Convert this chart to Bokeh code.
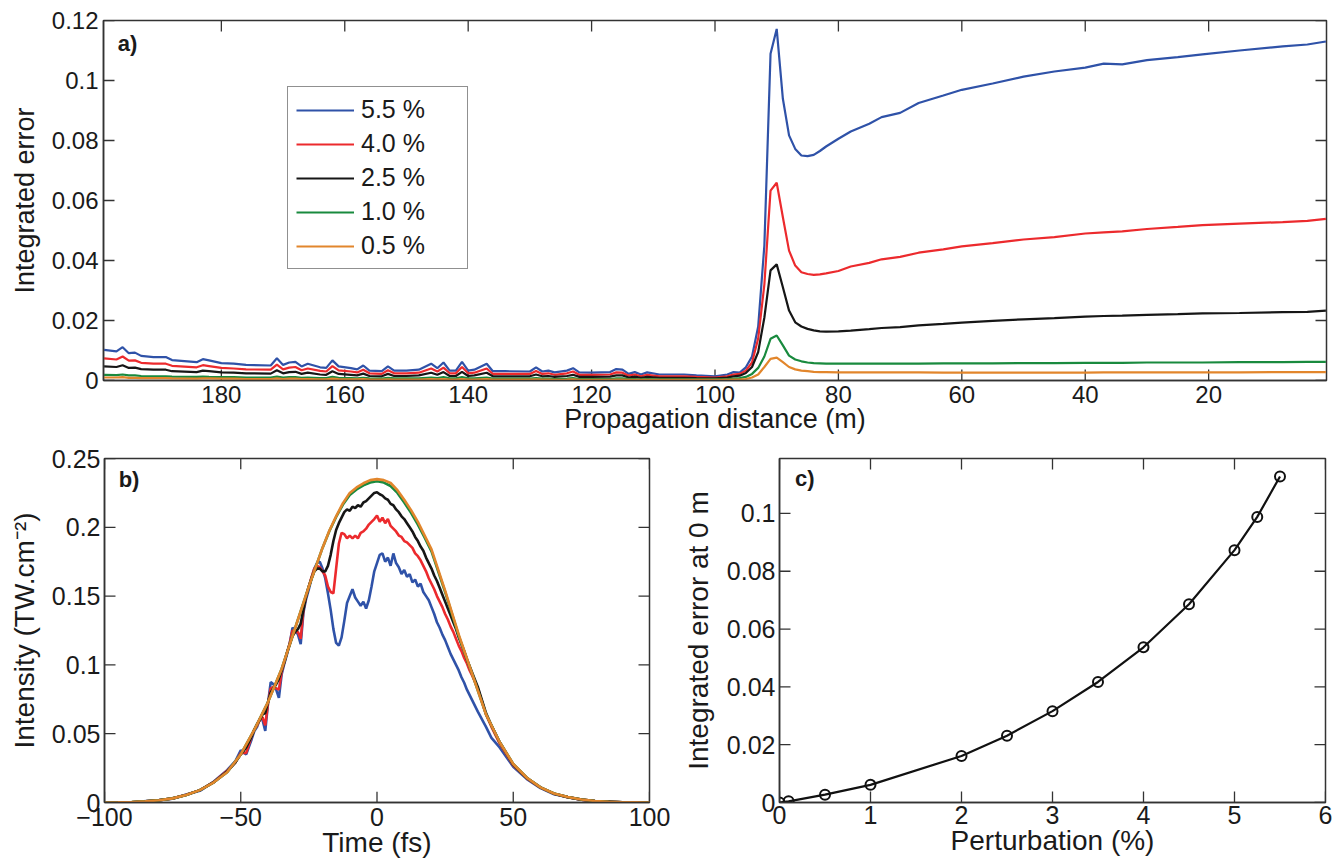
from bokeh.plotting import figure
from bokeh.models import (Range1d, FixedTicker, CustomJSTickFormatter,
                          Legend, LegendItem, Label)
from bokeh.layouts import column, row
from bokeh.embed import file_html
from bokeh.resources import INLINE

# ---------------- Panel a data: integrated error vs propagation distance ----------------
distance = [
    199, 197, 196, 195, 194, 193, 191, 189, 188, 184,
    183, 182, 180, 178, 176, 172, 171, 170, 169, 168,
    167, 166, 164, 163, 162, 161, 159, 158, 157, 156,
    154, 153, 152, 150, 148, 146, 145, 144, 143, 142,
    141, 140, 139, 137, 136, 134, 130, 129, 128, 127,
    126, 124, 123, 122, 120, 117, 116, 115, 114, 113,
    112, 111, 109, 105, 103, 100, 98, 97, 96, 95,
    94, 93, 92, 91, 90, 89, 88, 87, 86, 85,
    84, 83, 82, 80, 78, 75, 73, 70, 67, 63,
    60, 55, 50, 45, 40, 37, 34, 30, 25, 21,
    15, 8, 4, 1]

err_55 = [
    .0102, .0097, .0111, .0091, .0093, .0082, .0078, .0078, .0068, .0061,
    .0071, .0067, .0058, .0056, .0052, .0050, .0074, .0052, .0060, .0062,
    .0047, .0056, .0044, .0042, .0067, .0047, .0041, .0037, .0050, .0033,
    .0031, .0047, .0033, .0033, .0036, .0056, .0041, .0060, .0033, .0033,
    .0062, .0033, .0036, .0056, .0031, .0031, .0030, .0044, .0030, .0033,
    .0027, .0033, .0041, .0027, .0026, .0028, .0038, .0036, .0022, .0028,
    .0020, .0027, .0020, .0020, .0017, .0014, .0020, .0028, .0026, .0044,
    .0080, .0180, .0450, .1089, .1172, .0939, .0817, .0772, .0750, .0748,
    .0752, .0765, .0780, .0806, .0830, .0856, .0878, .0892, .0925, .0950,
    .0969, .0990, .1013, .1030, .1043, .1056, .1054, .1068, .1078, .1087,
    .1100, .1114, .1120, .1130]

err_40 = [
    .0074, .0070, .0080, .0066, .0067, .0059, .0056, .0056, .0049, .0044,
    .0051, .0048, .0042, .0040, .0037, .0036, .0053, .0037, .0043, .0045,
    .0034, .0040, .0032, .0030, .0048, .0034, .0030, .0027, .0036, .0024,
    .0022, .0034, .0024, .0024, .0026, .0040, .0030, .0043, .0024, .0024,
    .0045, .0024, .0026, .0040, .0022, .0022, .0022, .0032, .0022, .0024,
    .0019, .0024, .0030, .0019, .0019, .0020, .0027, .0026, .0016, .0020,
    .0014, .0019, .0014, .0014, .0012, .0010, .0014, .0020, .0022, .0033,
    .0060, .0140, .0320, .0633, .0659, .0544, .0433, .0383, .0361, .0355,
    .0352, .0354, .0357, .0365, .0380, .0392, .0404, .0412, .0426, .0437,
    .0447, .0458, .0470, .0478, .0490, .0494, .0497, .0505, .0512, .0518,
    .0523, .0528, .0532, .0539]

err_25 = [
    .0047, .0045, .0051, .0042, .0043, .0038, .0036, .0036, .0031, .0028,
    .0033, .0031, .0027, .0026, .0024, .0023, .0034, .0024, .0028, .0029,
    .0022, .0026, .0020, .0019, .0031, .0022, .0019, .0017, .0023, .0015,
    .0014, .0022, .0015, .0015, .0017, .0026, .0019, .0028, .0015, .0015,
    .0029, .0015, .0017, .0026, .0014, .0014, .0014, .0020, .0014, .0015,
    .0012, .0015, .0019, .0012, .0012, .0013, .0017, .0017, .0010, .0013,
    .0009, .0012, .0009, .0009, .0008, .0007, .0010, .0014, .0016, .0025,
    .0045, .0095, .0210, .0367, .0387, .0311, .0233, .0194, .0180, .0172,
    .0167, .0164, .0163, .0164, .0166, .0171, .0175, .0178, .0184, .0189,
    .0193, .0199, .0204, .0208, .0213, .0215, .0216, .0219, .0221, .0224,
    .0225, .0228, .0229, .0233]

err_10 = [
    .0019, .0018, .0020, .0017, .0017, .0015, .0014, .0014, .0013, .0012,
    .0013, .0012, .0011, .0011, .0010, .0010, .0013, .0010, .0011, .0011,
    .0009, .0010, .0008, .0008, .0012, .0009, .0008, .0007, .0009, .0007,
    .0006, .0009, .0007, .0007, .0007, .0010, .0008, .0011, .0007, .0007,
    .0011, .0007, .0007, .0010, .0006, .0006, .0006, .0008, .0006, .0006,
    .0005, .0006, .0008, .0005, .0005, .0005, .0007, .0007, .0005, .0005,
    .0004, .0005, .0004, .0004, .0004, .0004, .0005, .0006, .0008, .0012,
    .0022, .0042, .0080, .0139, .0150, .0117, .0083, .0070, .0064, .0060,
    .0058, .0057, .0056, .0056, .0056, .0056, .0056, .0056, .0056, .0057,
    .0057, .0057, .0058, .0058, .0059, .0059, .0059, .0060, .0060, .0060,
    .0061, .0061, .0062, .0062]

err_05 = [
    .0010, .0010, .0011, .0009, .0009, .0008, .0008, .0008, .0007, .0006,
    .0007, .0007, .0006, .0006, .0005, .0005, .0007, .0005, .0006, .0006,
    .0005, .0005, .0004, .0004, .0006, .0005, .0004, .0004, .0005, .0003,
    .0003, .0004, .0003, .0003, .0003, .0005, .0004, .0005, .0003, .0003,
    .0005, .0003, .0003, .0005, .0003, .0003, .0003, .0004, .0003, .0003,
    .0002, .0003, .0004, .0002, .0002, .0002, .0003, .0003, .0002, .0002,
    .0002, .0002, .0002, .0002, .0002, .0002, .0002, .0003, .0003, .0005,
    .0010, .0020, .0045, .0072, .0076, .0061, .0045, .0037, .0033, .0031,
    .0029, .0028, .0028, .0027, .0027, .0027, .0027, .0027, .0027, .0026,
    .0026, .0026, .0026, .0026, .0026, .0027, .0027, .0027, .0027, .0027,
    .0027, .0028, .0028, .0028]

legend_labels = ["5.5 %", "4.0 %", "2.5 %", "1.0 %", "0.5 %"]
colors = ["#2F52A8", "#EC2A2D", "#161616", "#198A3E", "#E2862C"]

dist_ticks = [20, 40, 60, 80, 100, 120, 140, 160, 180]
err_ticks = [0, 0.02, 0.04, 0.06, 0.08, 0.1, 0.12]

# ---------------- Panel b data: intensity vs time ----------------
time_smooth = [-100, -95, -90, -85, -80, -75, -70, -65, -60, -55,
               -50, -45, -40, -35, -30, -25, -20, -17.5, -15, -12.5,
               -10, -7.5, -5, -2.5, 0, 2.5, 5, 7.5, 10, 12.5,
               15, 17.5, 20, 25, 30, 35, 40, 45, 50, 55,
               60, 65, 70, 75, 80, 85, 90, 95, 100]

int_05 = [0, 0.0001, 0.0003, 0.0008, 0.0016, 0.003, 0.0055, 0.009, 0.0145, 0.022,
          0.035, 0.053, 0.073, 0.097, 0.127, 0.157, 0.185, 0.1975, 0.208, 0.2175,
          0.225, 0.229, 0.232, 0.2343, 0.235, 0.2343, 0.2322, 0.227, 0.220, 0.2125,
          0.204, 0.194, 0.184, 0.154, 0.122, 0.093, 0.064, 0.044, 0.028, 0.018,
          0.011, 0.0065, 0.004, 0.0022, 0.0011, 0.0005, 0.0002, 0.0001, 0]

int_10 = [0, 0.0001, 0.0003, 0.0008, 0.0016, 0.003, 0.0055, 0.009, 0.0145, 0.022,
          0.035, 0.053, 0.073, 0.097, 0.127, 0.157, 0.185, 0.1972, 0.2075, 0.2165,
          0.2235, 0.2275, 0.2305, 0.2325, 0.2335, 0.2325, 0.2300, 0.2250, 0.2180, 0.2105,
          0.2020, 0.1925, 0.1825, 0.153, 0.121, 0.093, 0.064, 0.044, 0.028, 0.018,
          0.011, 0.0065, 0.004, 0.0022, 0.0011, 0.0005, 0.0002, 0.0001, 0]

time_noisy = ([-100, -90, -80, -75, -70, -65, -60, -55, -52, -50, -48, -46]
              + list(range(-45, 36))
              + [37, 40, 42, 45, 50, 55, 60, 65, 70, 75, 80, 90, 100])

int_55 = ([0, 0.0002, 0.0017, 0.0028, 0.0058, 0.0085, 0.015, 0.0235, 0.030, 0.038, 0.035, 0.046]
          + [0.052, 0.055, 0.061, 0.060, 0.052, 0.072, 0.0875, 0.086, 0.082, 0.076,
             0.093, 0.101, 0.108, 0.116, 0.127, 0.125, 0.122, 0.115, 0.138, 0.148,
             0.155, 0.163, 0.170, 0.174, 0.175, 0.170, 0.163, 0.152, 0.140, 0.126,
             0.116, 0.114, 0.120, 0.132, 0.145, 0.150, 0.155, 0.149, 0.146, 0.143,
             0.146, 0.141, 0.147, 0.157, 0.168, 0.174, 0.180, 0.181, 0.175, 0.178,
             0.172, 0.181, 0.174, 0.171, 0.166, 0.169, 0.164, 0.166, 0.160, 0.162,
             0.157, 0.159, 0.153, 0.150, 0.147, 0.142, 0.137, 0.131, 0.127, 0.122,
             0.118, 0.113, 0.108, 0.104, 0.100, 0.096, 0.091, 0.087, 0.082, 0.078,
             0.074]
          + [0.066, 0.055, 0.047, 0.040, 0.026, 0.017, 0.0105, 0.006, 0.0038, 0.002, 0.001, 0.0002, 0])

int_40 = ([0, 0.0002, 0.0016, 0.003, 0.0056, 0.009, 0.0148, 0.023, 0.029, 0.036, 0.036, 0.048]
          + [0.053, 0.056, 0.060, 0.062, 0.056, 0.072, 0.083, 0.084, 0.083, 0.082,
             0.095, 0.102, 0.109, 0.116, 0.125, 0.124, 0.124, 0.119, 0.140, 0.150,
             0.157, 0.164, 0.170, 0.172, 0.171, 0.168, 0.165, 0.157, 0.153, 0.152,
             0.170, 0.188, 0.196, 0.195, 0.192, 0.194, 0.192, 0.194, 0.192, 0.196,
             0.197, 0.199, 0.202, 0.204, 0.206, 0.2085, 0.204, 0.207, 0.203, 0.206,
             0.201, 0.199, 0.197, 0.194, 0.193, 0.190, 0.189, 0.187, 0.185, 0.181,
             0.179, 0.176, 0.172, 0.168, 0.163, 0.159, 0.155, 0.150, 0.146, 0.142,
             0.137, 0.133, 0.128, 0.124, 0.119, 0.114, 0.110, 0.105, 0.101, 0.096,
             0.092]
          + [0.083, 0.064, 0.055, 0.043, 0.027, 0.0175, 0.0108, 0.0063, 0.0039, 0.0021, 0.001, 0.0002, 0])

int_25 = ([0, 0.0002, 0.0016, 0.003, 0.0055, 0.009, 0.0146, 0.0225, 0.029, 0.035, 0.040, 0.048]
          + [0.053, 0.057, 0.060, 0.064, 0.065, 0.073, 0.080, 0.083, 0.086, 0.090,
             0.096, 0.102, 0.109, 0.115, 0.121, 0.124, 0.126, 0.130, 0.140, 0.150,
             0.157, 0.163, 0.168, 0.170, 0.170, 0.168, 0.168, 0.172, 0.180, 0.190,
             0.198, 0.203, 0.207, 0.211, 0.213, 0.212, 0.215, 0.214, 0.216, 0.215,
             0.218, 0.219, 0.221, 0.223, 0.225, 0.2255, 0.224, 0.223, 0.221, 0.220,
             0.217, 0.216, 0.213, 0.211, 0.208, 0.206, 0.203, 0.200, 0.197, 0.193,
             0.190, 0.186, 0.183, 0.178, 0.174, 0.170, 0.165, 0.161, 0.156, 0.151,
             0.146, 0.141, 0.136, 0.131, 0.126, 0.120, 0.115, 0.110, 0.104, 0.099,
             0.094]
          + [0.084, 0.065, 0.056, 0.044, 0.0275, 0.0178, 0.011, 0.0064, 0.0039, 0.0021, 0.0011, 0.0002, 0])

time_ticks = [-100, -50, 0, 50, 100]
int_ticks = [0, 0.05, 0.1, 0.15, 0.2, 0.25]

# ---------------- Panel c data: integrated error at 0 m vs perturbation ----------------
perturbation = [0, 0.1, 0.5, 1, 2, 2.5, 3, 3.5, 4, 4.5, 5, 5.25, 5.5]
err_at_0m = [0, 0.0004, 0.0027, 0.0061, 0.0161, 0.0231, 0.0316, 0.0417, 0.0537,
             0.0686, 0.0873, 0.0988, 0.1128]
pert_ticks = [0, 1, 2, 3, 4, 5, 6]
err0_ticks = [0, 0.02, 0.04, 0.06, 0.08, 0.1]

# ---------------- styling helpers ----------------
FONT = "Liberation Sans"
FRAME = "#333333"
TEXT = "#1a1a1a"
TICK_LEN = 11
FMT = "var s = String(Number(tick.toFixed(4))); return s.replace('-', '\u2212');"


def style_axis(ax, ticks, tick_fs, label, label_fs, label_standoff, tick_standoff):
    ax.ticker = FixedTicker(ticks=ticks)
    ax.formatter = CustomJSTickFormatter(code=FMT)
    ax.major_tick_in = 0
    ax.major_tick_out = 0
    ax.major_tick_line_color = None
    ax.minor_tick_line_color = None
    ax.axis_line_color = FRAME
    ax.axis_line_width = 1.5
    ax.major_label_text_font = FONT
    ax.major_label_text_font_size = tick_fs
    ax.major_label_text_color = TEXT
    ax.major_label_standoff = tick_standoff
    ax.axis_label = label
    ax.axis_label_text_font = FONT
    ax.axis_label_text_font_style = "normal"
    ax.axis_label_text_font_size = label_fs
    ax.axis_label_text_color = TEXT
    ax.axis_label_standoff = label_standoff


def inner_ticks(p, xticks, yticks, frame_w, frame_h):
    """Inward tick marks on all four sides of the frame (box on)."""
    xr, yr = p.x_range, p.y_range
    dx = (xr.end - xr.start) * TICK_LEN / frame_w
    dy = (yr.end - yr.start) * TICK_LEN / frame_h
    n, m = len(xticks), len(yticks)
    kw = dict(line_color=FRAME, line_width=1.3)
    p.segment(x0=xticks, x1=xticks, y0=[yr.start] * n, y1=[yr.start + dy] * n, **kw)
    p.segment(x0=xticks, x1=xticks, y0=[yr.end] * n, y1=[yr.end - dy] * n, **kw)
    p.segment(x0=[xr.start] * m, x1=[xr.start + dx] * m, y0=yticks, y1=yticks, **kw)
    p.segment(x0=[xr.end] * m, x1=[xr.end - dx] * m, y0=yticks, y1=yticks, **kw)


def base(p):
    p.xgrid.visible = False
    p.ygrid.visible = False
    p.outline_line_color = FRAME
    p.outline_line_width = 1.5
    p.background_fill_color = "white"
    p.border_fill_color = "white"


# ---------------- panel a ----------------
pa = figure(width=1334, height=440, x_range=Range1d(199.1, 0.9), y_range=Range1d(0, 0.12),
            output_backend="svg", toolbar_location=None,
            min_border_left=103, min_border_right=8, min_border_top=20, min_border_bottom=60)
base(pa)
style_axis(pa.below[0], dist_ticks, "24px", "Propagation distance (m)", "27px", -2, 5)
style_axis(pa.left[0], err_ticks, "24px", "Integrated error", "27px", 9, 5)
inner_ticks(pa, dist_ticks, err_ticks, 1223, 360)

series_a = [err_55, err_40, err_25, err_10, err_05]
items = []
for vals, col, lab in zip(series_a, colors, legend_labels):
    r = pa.line(distance, vals, line_color=col, line_width=2.2)
    items.append(LegendItem(label=lab, renderers=[r]))
leg = Legend(items=items, location=(184, 111), margin=0, padding=8, spacing=5,
             glyph_width=58, glyph_height=28, label_height=28, label_width=98,
             label_standoff=7, label_text_font=FONT, label_text_font_size="25px",
             label_text_color=TEXT, border_line_color="#222222", border_line_width=1.5,
             background_fill_color="white", background_fill_alpha=1.0)
pa.add_layout(leg)
pa.add_layout(Label(x=196.8, y=0.1123, text="a)", text_font=FONT, text_font_style="bold",
                    text_font_size="22px", text_baseline="middle", text_color=TEXT))

# ---------------- panel b ----------------
pb = figure(width=670, height=425, x_range=Range1d(-100, 100), y_range=Range1d(0, 0.25),
            output_backend="svg", toolbar_location=None,
            min_border_left=104, min_border_right=21, min_border_top=14, min_border_bottom=63)
base(pb)
style_axis(pb.below[0], time_ticks, "25px", "Time (fs)", "28px", -2, 5)
style_axis(pb.left[0], int_ticks, "25px", "Intensity (TW.cm\u207b\u00b2)", "28px", 9, 4)
inner_ticks(pb, time_ticks, int_ticks, 545, 348)
pb.line(time_noisy, int_55, line_color=colors[0], line_width=2.6)
pb.line(time_noisy, int_40, line_color=colors[1], line_width=2.6)
pb.line(time_noisy, int_25, line_color=colors[2], line_width=2.6)
pb.line(time_smooth, int_10, line_color=colors[3], line_width=2.6)
pb.line(time_smooth, int_05, line_color=colors[4], line_width=2.6)
pb.add_layout(Label(x=-94.8, y=0.235, text="b)", text_font=FONT, text_font_style="bold",
                    text_font_size="22px", text_baseline="middle", text_color=TEXT))

# ---------------- panel c ----------------
pc = figure(width=664, height=425, x_range=Range1d(0, 6), y_range=Range1d(0, 0.119),
            output_backend="svg", toolbar_location=None,
            min_border_left=109, min_border_right=9, min_border_top=18, min_border_bottom=61)
base(pc)
style_axis(pc.below[0], pert_ticks, "25px", "Perturbation (%)", "28px", -2, 3)
style_axis(pc.left[0], err0_ticks, "25px", "Integrated error at 0 m", "28px", 10, 4)
inner_ticks(pc, pert_ticks, err0_ticks, 546, 346)
pc.line(perturbation, err_at_0m, line_color="#111111", line_width=2.2)
pc.scatter(perturbation, err_at_0m, marker="circle", size=10, fill_color=None,
           line_color="#111111", line_width=2)
pc.add_layout(Label(x=0.17, y=0.1121, text="c)", text_font=FONT, text_font_style="bold",
                    text_font_size="22px", text_baseline="middle", text_color=TEXT))

layout = column(pa, row(pb, pc))
open("out.html", "w").write(file_html(layout, INLINE))
